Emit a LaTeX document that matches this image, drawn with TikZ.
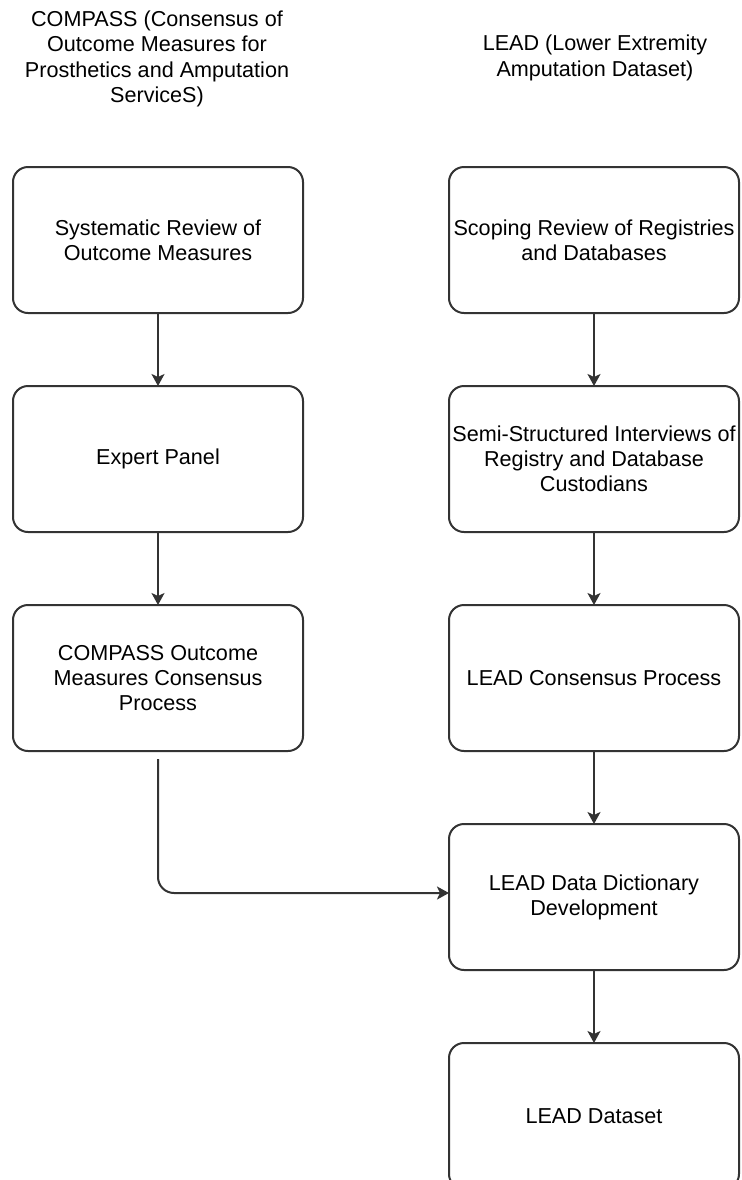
\documentclass[tikz,border=0pt]{standalone}
\usepackage{fontspec}
\setmainfont{Liberation Sans}
\usetikzlibrary{positioning}
\usetikzlibrary{arrows.meta}

\begin{document}
\begin{tikzpicture}[
    stepbox/.style={draw=black!80, line width=1pt, rounded corners=7.5pt, minimum width=145pt, minimum height=73pt, outer sep=0pt, inner xsep=0pt, inner ysep=2pt, align=center, font=\fontsize{10.8}{12.5}\selectfont},
    headtext/.style={align=center, font=\fontsize{10.8}{12.7}\selectfont},
    flow/.style={draw=black!80, line width=1pt, -{Stealth[length=6pt, width=6.5pt, inset=1.5pt]}}
  ]
    \clip (0,0) rectangle (371pt,-590pt);

    \node[headtext] (compasstitle) at (78.5pt,-29.5pt) {COMPASS (Consensus of\\Outcome Measures for\\Prosthetics and Amputation\\ServiceS)};
    \node[headtext] (leadtitle) at (297.5pt,-29pt) {LEAD (Lower Extremity\\Amputation Dataset)};

    \node[stepbox] (sysrev) at (79pt,-120pt) {Systematic Review of\\Outcome Measures};
    \node[stepbox, below=36.5pt of sysrev] (panel) {Expert Panel};
    \node[stepbox, below=36.5pt of panel] (compcons) {COMPASS Outcome\\Measures Consensus\\Process};

    \node[stepbox, right=73pt of sysrev] (scoping) {Scoping Review of Registries\\and Databases};
    \node[stepbox, below=36.5pt of scoping] (interviews) {Semi-Structured Interviews of\\Registry and Database\\Custodians};
    \node[stepbox, below=36.5pt of interviews] (leadcons) {LEAD Consensus Process};
    \node[stepbox, below=36.5pt of leadcons] (dictdev) {LEAD Data Dictionary\\Development};
    \node[stepbox, below=36.5pt of dictdev] (dataset) {LEAD Dataset};

    \draw[flow] (sysrev) -- (panel);
    \draw[flow] (panel) -- (compcons);
    \draw[flow] (scoping) -- (interviews);
    \draw[flow] (interviews) -- (leadcons);
    \draw[flow] (leadcons) -- (dictdev);
    \draw[flow] (dictdev) -- (dataset);
    \draw[flow, rounded corners=8pt] ([yshift=-4pt]compcons.south) |- ([yshift=2pt]dictdev.west);
\end{tikzpicture}
\end{document}
